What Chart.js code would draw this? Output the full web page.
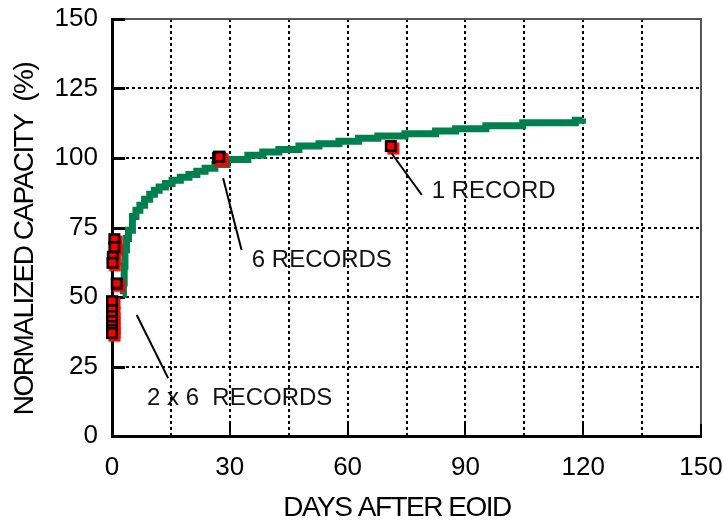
<!DOCTYPE html>
<html lang="en">
<head>
    <meta charset="UTF-8">
    <title>Normalized capacity after EOID</title>
    <script src="https://cdn.jsdelivr.net/npm/chart.js"></script>
    <style>
        html, body { margin: 0; padding: 0; background: #fff; }
    </style>
</head>
<body>
<canvas id="capChart" width="724" height="525"></canvas>
<script>
    // Capacity trend after EOID (days, % of nominal)
    const trendDays   = [2.7, 2.9, 3.1, 3.3, 3.7, 4.2, 5.2, 6.1, 7.1, 8.3, 9.6, 10.8, 12.0, 13.6, 15.3, 17.4, 19.6, 21.6, 23.7, 26.2, 29.3, 34.6, 38.4, 42.5, 47.6, 52.7, 57.8, 62.8, 67.7, 74.6, 82.4, 87.5, 95.2, 104.6, 118.0, 119.8];
    const trendValues = [51, 55, 61, 67, 71, 74, 79, 81.2, 83, 85.2, 87, 88.4, 89.6, 90.8, 92, 93.1, 94.1, 95.2, 96.3, 97.7, 99.5, 101.0, 102.2, 103.1, 104.3, 105.1, 106.0, 107.1, 107.9, 108.7, 109.7, 110.5, 111.6, 112.7, 113.6, 114.2];

    // Individual records: 2 x 6 near day 0, 6 near day 27, 1 near day 71
    const recordDays   = [0.6, 0.6, 0.2, 0.1, 1.2, 0.0, 0.0, 0.0, 0.0, 0.0, 0.0, 0.0,
                          27.0, 27.2, 27.3, 27.4, 27.5, 27.3,
                          71.0];
    const recordValues = [70.8, 68.0, 64.5, 62.3, 54.9, 48.5, 45.3, 43.2, 41.4, 39.6, 38.1, 37.0,
                          100.0, 100.3, 100.5, 100.2, 100.0, 100.4,
                          104.3];

    const xTicks = [0, 30, 60, 90, 120, 150];
    const yTicks = [0, 25, 50, 75, 100, 125, 150];

    const callouts = ['1 RECORD', '6 RECORDS', '2 x 6  RECORDS'];

    const FONT = "'Liberation Sans', Arial, sans-serif";

    // red square with black rim and a red drop shadow
    function recordMarker() {
        const c = document.createElement('canvas');
        c.width = 20; c.height = 20;
        const g = c.getContext('2d');
        g.fillStyle = '#ff0000';
        g.fillRect(6.5, 6.5, 12, 12);
        g.fillStyle = '#000';
        g.fillRect(4, 4, 12, 12);
        g.fillStyle = '#ff0000';
        g.fillRect(6.5, 6.5, 7, 7);
        return c;
    }

    // frame, inward tick marks, callouts and axis titles
    const decorations = {
        id: 'decorations',
        beforeDatasetsDraw(chart) {
            const {ctx, chartArea: a, scales: {x, y}} = chart;
            ctx.save();
            ctx.strokeStyle = '#555';
            ctx.lineWidth = 2;
            ctx.beginPath();
            ctx.moveTo(a.left, a.top);
            ctx.lineTo(a.right, a.top);
            ctx.lineTo(a.right, a.bottom);
            ctx.stroke();

            ctx.strokeStyle = '#000';
            ctx.lineWidth = 3;
            yTicks.forEach(v => {
                const py = Math.round(y.getPixelForValue(v)) + 0.5;
                ctx.beginPath();
                ctx.moveTo(a.left, py);
                ctx.lineTo(a.left + 13, py);
                ctx.stroke();
            });
            ctx.lineWidth = 2;
            xTicks.slice(1).forEach(v => {
                const px = Math.round(x.getPixelForValue(v));
                ctx.beginPath();
                ctx.moveTo(px, a.bottom);
                ctx.lineTo(px, a.bottom - 12);
                ctx.stroke();
            });
            ctx.restore();
        },
        afterDatasetsDraw(chart) {
            const {ctx, scales: {x, y}} = chart;
            // leader line start, end and label anchor, in data units
            const spots = [
                {from: [71.2, 101.7], to: [78.9, 86.7], at: [81.4, 88.1]},
                {from: [28.3, 92.7],  to: [33.0, 66.9], at: [35.6, 63.3]},
                {from: [6.3, 43.5],   to: [14.3, 20.8], at: [8.9, 13.5]}
            ];
            ctx.save();
            ctx.strokeStyle = '#000';
            ctx.lineWidth = 2;
            ctx.fillStyle = '#111';
            ctx.font = '24px ' + FONT;
            ctx.textAlign = 'left';
            ctx.textBaseline = 'middle';
            spots.forEach((s, i) => {
                ctx.beginPath();
                ctx.moveTo(x.getPixelForValue(s.from[0]), y.getPixelForValue(s.from[1]));
                ctx.lineTo(x.getPixelForValue(s.to[0]), y.getPixelForValue(s.to[1]));
                ctx.stroke();
                ctx.fillText(callouts[i], x.getPixelForValue(s.at[0]), y.getPixelForValue(s.at[1]));
            });
            ctx.restore();
        },
        afterDraw(chart) {
            const {ctx} = chart;
            ctx.save();
            ctx.fillStyle = '#000';
            ctx.font = '28px ' + FONT;
            ctx.letterSpacing = '-1.5px';
            ctx.textAlign = 'center';
            ctx.textBaseline = 'middle';
            ctx.fillText('DAYS AFTER EOID', 397, 508);
            ctx.translate(25, 239);
            ctx.rotate(-Math.PI / 2);
            ctx.fillText('NORMALIZED CAPACITY  (%)', 0, 0);
            ctx.restore();
        }
    };

    const gridOpts = { color: '#000', lineWidth: 2, drawTicks: false };
    const borderOpts = { color: '#000', width: 3, dash: [3, 3] };

    // fixed axis boxes so the plot area lands where it should
    function fitX(s) {
        s.height = 89;
        s.paddingLeft = s.paddingRight = s.paddingTop = s.paddingBottom = 0;
    }
    function fitY(s) {
        s.width = 112;
        s.paddingLeft = s.paddingRight = s.paddingTop = s.paddingBottom = 0;
    }

    new Chart(document.getElementById('capChart'), {
        type: 'scatter',
        data: {
            datasets: [
                {
                    label: 'Records',
                    data: recordDays.map((d, i) => ({x: d, y: recordValues[i]})),
                    pointStyle: recordMarker(),
                    pointRadius: 10,
                    showLine: false,
                    clip: false
                },
                {
                    label: 'Trend',
                    data: trendDays.map((d, i) => ({x: d, y: trendValues[i]})),
                    showLine: true,
                    stepped: true,
                    borderColor: '#00804f',
                    borderWidth: 7,
                    borderCapStyle: 'butt',
                    pointRadius: 0
                }
            ]
        },
        options: {
            responsive: false,
            animation: false,
            layout: { padding: { top: 19, right: 23, left: 0, bottom: 0 } },
            plugins: { legend: { display: false }, tooltip: { enabled: false } },
            scales: {
                x: {
                    type: 'linear', min: 0, max: 150,
                    afterFit: fitX,
                    grid: gridOpts,
                    border: borderOpts,
                    ticks: {
                        stepSize: 15, autoSkip: false, maxRotation: 0,
                        padding: 16, color: '#000',
                        font: { family: FONT, size: 26 },
                        callback: v => xTicks.includes(v) ? v : ''
                    }
                },
                y: {
                    min: 0, max: 150,
                    afterFit: fitY,
                    grid: gridOpts,
                    border: borderOpts,
                    ticks: {
                        stepSize: 25, padding: 14, color: '#000',
                        font: { family: FONT, size: 26 },
                        callback: v => yTicks.includes(v) ? v : ''
                    }
                }
            }
        },
        plugins: [decorations]
    });
</script>
</body>
</html>
